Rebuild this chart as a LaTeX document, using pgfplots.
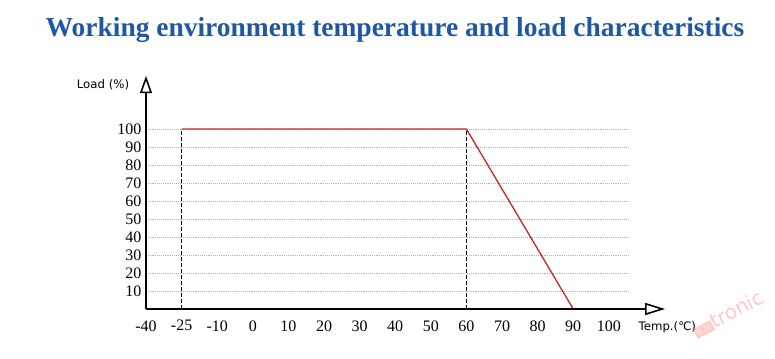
\documentclass[border=0pt]{standalone}
\usepackage{pgfplots}
\pgfplotsset{compat=1.18}
\usepackage{fontspec}
\setmainfont{Liberation Serif}
\newfontfamily\labfont{DejaVu Sans}
\usetikzlibrary{arrows.meta}
\definecolor{titleblue}{RGB}{30,88,165}
\definecolor{derate}{RGB}{200,40,40}
\begin{document}
\begin{tikzpicture}[x=0.75pt,y=0.75pt]
\useasboundingbox (0,0) rectangle (775,358);
\node[font=\bfseries\fontsize{20.6}{24}\selectfont, text=titleblue] at (395,328) {Working environment temperature and load characteristics};
\begin{axis}[
  at={(109.5pt,36.75pt)}, anchor=south west,
  scale only axis, width=361.8pt, height=135pt,
  xmin=0, xmax=13.55, ymin=0, ymax=100,
  axis line style={draw=none},
  xtick={0,...,13},
  xticklabels={-40,-25,-10,0,10,20,30,40,50,60,70,80,90,100},
  ytick={10,20,...,100},
  ymajorgrids, grid style={densely dotted, gray!60, line width=0.5pt},
  major tick length=0pt,
  clip=false,
  ticklabel style={font=\fontsize{12}{14}\selectfont},
  xticklabel style={yshift=-5pt},
  /pgf/number format/assume math mode=true,
]
\addplot[black, dashed, dash pattern=on 3pt off 1.5pt, line width=1pt] coordinates {(1,0) (1,100)};
\addplot[black, dashed, dash pattern=on 3pt off 1.5pt, line width=1pt] coordinates {(9,0) (9,100)};
\addplot[derate, line width=1pt] coordinates {(1,100) (9,100) (12,0)};
\draw[line width=1.2pt, -{Triangle[open, length=13pt, width=9pt]}] (axis cs:0,0) -- (axis cs:0,129.5);
\draw[line width=1.2pt, -{Triangle[open, length=15pt, width=9pt]}] (axis cs:0,0) -- (axis cs:14.58,0);
\end{axis}
\node[font=\labfont\fontsize{8.8}{10}\selectfont] at (103,273) {Load (\%)};
\node[font=\labfont\fontsize{8.8}{10}\selectfont, anchor=west] at (634,31) {Temp.(℃)};
\node[opacity=0.3, rotate=27, inner sep=0pt, text=red!70, font=\labfont\fontsize{15}{15}\selectfont] at (728,44) {{\fboxsep=1.2pt\colorbox{red!70}{\textcolor{white}{\fontsize{8}{8}\selectfont\bfseries EN}}}tronic};
\end{tikzpicture}
\end{document}
